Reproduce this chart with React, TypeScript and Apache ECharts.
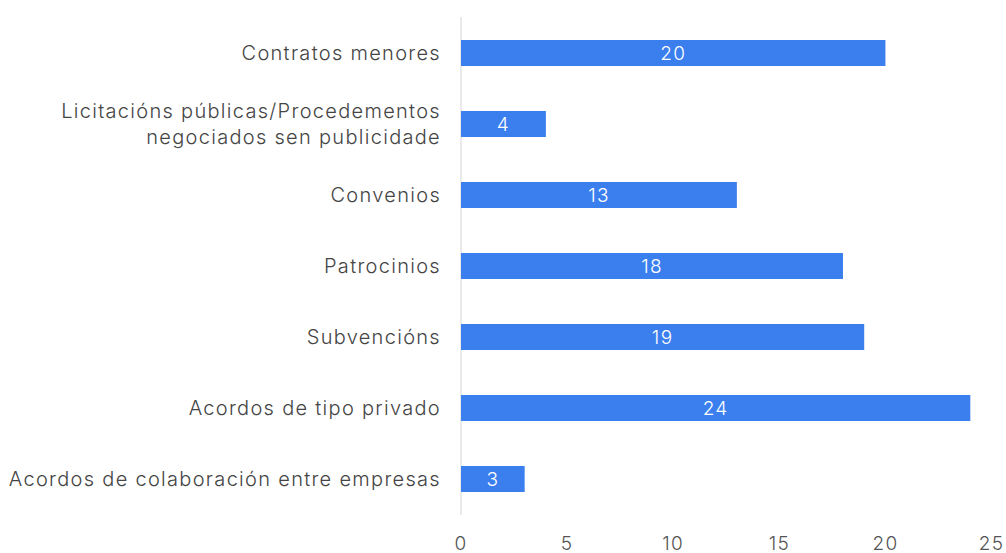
import React, { useEffect, useRef } from "react";
import * as echarts from "echarts";

const categories = [
  "Contratos menores",
  "Licitacións públicas/Procedementos\nnegociados sen publicidade",
  "Convenios",
  "Patrocinios",
  "Subvencións",
  "Acordos de tipo privado",
  "Acordos de colaboración entre empresas",
];
const values = [20, 4, 13, 18, 19, 24, 3];
const xTicks = [0, 5, 10, 15, 20, 25];

export default function App() {
  const ref = useRef<HTMLDivElement>(null);
  useEffect(() => {
    if (!ref.current) return;
    const chart = echarts.init(ref.current, null, { renderer: "svg" });
    chart.setOption({
      animation: false,
      backgroundColor: "#ffffff",
      grid: { left: 461, right: 13, top: 17.5, bottom: 38.5, containLabel: false },
      xAxis: {
        type: "value",
        min: xTicks[0],
        max: xTicks[xTicks.length - 1],
        interval: 5,
        axisLine: { show: false },
        axisTick: { show: false },
        splitLine: { show: false },
        axisLabel: {
          color: "#555555",
          fontFamily: "Inter",
          fontWeight: 300,
          fontSize: 19,
          margin: 19,
        },
      },
      yAxis: {
        type: "category",
        data: categories,
        inverse: true,
        axisLine: { show: true, lineStyle: { color: "#e3e3e3", width: 1.5 } },
        axisTick: { show: false },
        axisLabel: {
          color: "#444444",
          fontFamily: "Inter",
          fontWeight: 300,
          fontSize: 20,
          margin: 20,
          lineHeight: 26,
          align: "right",
        },
      },
      series: [
        {
          type: "bar",
          data: values,
          barWidth: 26,
          itemStyle: { color: "#3b7eee" },
          label: {
            show: true,
            position: "inside",
            color: "#ffffff",
            fontFamily: "Inter",
            fontWeight: 300,
            fontSize: 19,
          },
        },
      ],
    });
    return () => chart.dispose();
  }, []);
  return (
    <div
      ref={ref}
      style={{ position: "fixed", left: 0, top: 0, width: 1006, height: 553, letterSpacing: "1.3px" }}
    />
  );
}
